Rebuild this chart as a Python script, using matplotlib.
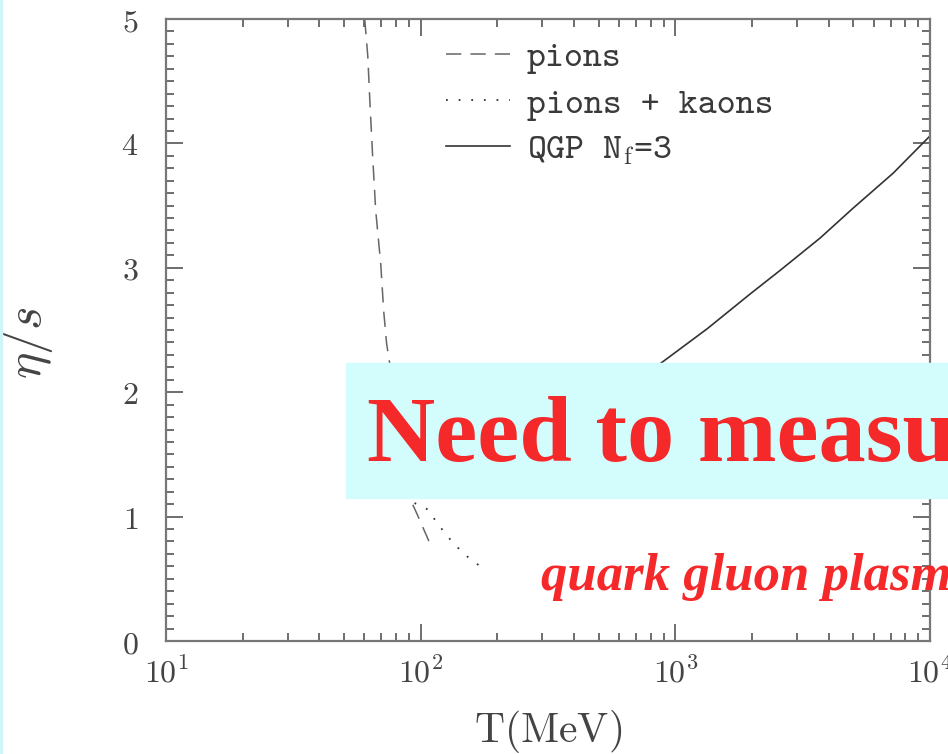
import numpy as np
import matplotlib
matplotlib.use('Agg')
import matplotlib.pyplot as plt
from matplotlib.patches import Rectangle
from matplotlib.ticker import FixedLocator, FuncFormatter, LogLocator, MultipleLocator

plt.rcParams['mathtext.fontset'] = 'cm'
plt.rcParams['font.family'] = 'DejaVu Serif'

# eta/s vs temperature (MeV)
T_pions = [60.3, 62.0, 63.2, 64.8, 66.6, 69.7, 71.6, 73.5, 75.6, 82.0, 91.5, 97.3, 108.4]
eta_pions = [5.0, 4.70, 4.33, 3.89, 3.46, 3.03, 2.65, 2.39, 2.23, 1.70, 1.13, 1.01, 0.79]

T_kaons = [80.0, 86.0, 92.2, 106.0, 120.0, 135.0, 156.0, 169.0]
eta_kaons = [2.0, 1.5, 1.12, 1.06, 0.91, 0.78, 0.66, 0.61]

T_qgp = [200.0, 400.0, 873.0, 1334.0, 1968.0, 2582.0, 3706.0, 4993.0, 7161.0, 10000.0]
eta_qgp = [1.32, 1.74, 2.23, 2.51, 2.79, 2.98, 3.24, 3.48, 3.76, 4.06]

labels = ['pions', 'pions + kaons', r'QGP N$_{\rm f}$=3']

W, H = 948, 754
fig = plt.figure(figsize=(W / 100, H / 100), dpi=100)
ax = fig.add_axes([166 / W, (H - 641) / H, 764 / W, 622 / H])

ax.plot(T_pions, eta_pions, color='#666666', lw=1.1, ls=(0, (10, 6)), label=labels[0])
ax.plot(T_kaons, eta_kaons, color='#333333', lw=1.3, ls=(0, (1, 6)), label=labels[1])
ax.plot(T_qgp, eta_qgp, color='#333333', lw=1.2, label=labels[2])

ax.set_xscale('log')
ax.set_xlim(10, 1e4)
ax.set_ylim(0, 5)

ax.xaxis.set_major_locator(FixedLocator([10, 100, 1000, 10000]))
ax.xaxis.set_minor_locator(LogLocator(base=10, subs=np.arange(2, 10)))
ax.xaxis.set_major_formatter(FuncFormatter(lambda v, p: r'$10^{%d}$' % round(np.log10(v))))
ax.xaxis.set_minor_formatter(FuncFormatter(lambda v, p: ''))
ax.yaxis.set_major_locator(MultipleLocator(1))
ax.yaxis.set_minor_locator(MultipleLocator(0.1))
ax.yaxis.set_major_formatter(FuncFormatter(lambda v, p: r'$%d$' % round(v)))

ax.tick_params(which='both', direction='in', top=True, right=True,
               color='#555555', width=1.2, labelcolor='#444444')
ax.tick_params(which='major', length=12, labelsize=23)
ax.tick_params(which='minor', length=6)
ax.tick_params(axis='y', which='major', pad=20)
ax.tick_params(axis='x', which='major', pad=12)
for s in ax.spines.values():
    s.set_color('#777777')
    s.set_linewidth(1.6)

ax.set_xlabel(r'$\mathrm{T(MeV)}$', fontsize=30, color='#444444')
ax.xaxis.set_label_coords(0.5, -0.108)
ax.set_ylabel(r'$\eta/s$', fontsize=36, color='#444444')
ax.yaxis.set_label_coords(-0.145, 0.48)

# typewriter legend text
leg = ax.legend(loc='upper left', bbox_to_anchor=(446 / W, 1 - 41 / H),
                bbox_transform=fig.transFigure, frameon=False,
                prop={'family': 'cmtt10', 'size': 26},
                handlelength=1.77, handletextpad=0.47, labelspacing=0.36,
                borderpad=0, borderaxespad=0)
for t in leg.get_texts():
    t.set_color('#3a3a3a')

# banner over the plot
fig.add_artist(Rectangle((0, 0), 2 / W, 1, transform=fig.transFigure,
                         color='#CFF5F8', zorder=5))
fig.add_artist(Rectangle((346 / W, (H - 498) / H), 1, 135 / H,
                         transform=fig.transFigure, color='#D3FCFC', zorder=5))
fig.text(367 / W, (H - 461) / H, 'Need to measure', fontsize=68,
         family='Liberation Serif', weight='bold', color='#F5282A', zorder=6)
fig.text(541 / W, (H - 590) / H, 'quark gluon plasma', fontsize=38,
         family='Liberation Serif', weight='bold', style='italic',
         color='#F5282A', zorder=6)

fig.savefig('out.png', dpi=100)
